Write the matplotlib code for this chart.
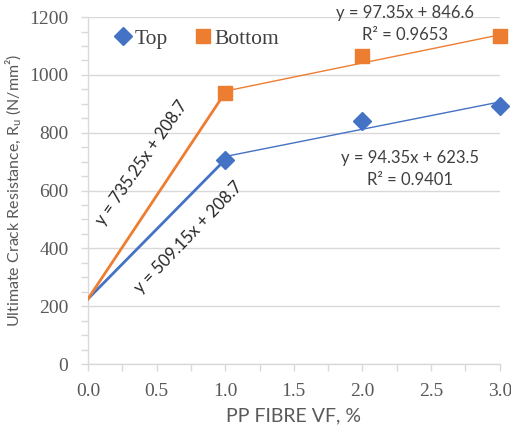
import matplotlib
matplotlib.use("Agg")
import matplotlib.pyplot as plt
from matplotlib.ticker import MultipleLocator
import numpy as np

# Fibre content (%) and ultimate crack resistance (N/mm^2)
fibre_vf = [0.0, 1.0, 2.0, 3.0]
top = [225, 707, 839, 893]
bottom = [225, 939, 1066, 1133]

# Trend-line coefficients (slope, intercept)
top_low_fit = (509.15, 208.7)
bottom_low_fit = (735.25, 208.7)
top_high_fit = (94.35, 623.5)
bottom_high_fit = (97.35, 846.6)
top_r2 = 0.9401
bottom_r2 = 0.9653

x_ticks = [0.0, 0.5, 1.0, 1.5, 2.0, 2.5, 3.0]
y_ticks = [0, 200, 400, 600, 800, 1000, 1200]

BLUE = "#4472C4"
ORANGE = "#ED7D31"
GRID = "#D9D9D9"
TICK = "#595959"
EQ = "#404040"

plt.rcParams["font.family"] = ["Lato", "DejaVu Sans"]

fig = plt.figure(figsize=(5.11, 4.28), dpi=100)
ax = fig.add_axes([0.172, 0.1495, 0.806, 0.8105])

# steep segments from 0 to 1 %
ax.plot(fibre_vf[:2], top[:2], color=BLUE, lw=2.0, zorder=3)
ax.plot(fibre_vf[:2], bottom[:2], color=ORANGE, lw=2.0, zorder=3)

# linear trend lines over 1-3 %
xf = np.array([1.0, 3.0])
ax.plot(xf, top_high_fit[0] * xf + top_high_fit[1], color=BLUE, lw=1.0, zorder=3)
ax.plot(xf, bottom_high_fit[0] * xf + bottom_high_fit[1], color=ORANGE, lw=1.0, zorder=3)

# markers
ax.plot(fibre_vf[1:], top[1:], ls="none", marker="D", ms=9, color=BLUE,
        label="Top", zorder=4, clip_on=False)
ax.plot(fibre_vf[1:], bottom[1:], ls="none", marker="s", ms=10, color=ORANGE,
        label="Bottom", zorder=4, clip_on=False)

ax.set_xlim(0, 3.0)
ax.set_ylim(0, 1200)
ax.set_xticks(x_ticks)
ax.set_xticklabels([f"{v:.1f}" for v in x_ticks])
ax.set_yticks(y_ticks)
ax.xaxis.set_minor_locator(MultipleLocator(0.25))
ax.yaxis.set_minor_locator(MultipleLocator(50))

ax.grid(axis="y", which="major", color=GRID, lw=1.0, zorder=0)
for s in ["top", "right"]:
    ax.spines[s].set_visible(False)
for s in ["left", "bottom"]:
    ax.spines[s].set_color(GRID)
    ax.spines[s].set_linewidth(1.0)

ax.tick_params(axis="both", which="both", color=GRID, labelcolor=TICK,
               direction="out", length=5, width=1)
for lab in ax.get_xticklabels() + ax.get_yticklabels():
    lab.set_fontfamily("Liberation Serif")
    lab.set_fontsize(14)
ax.tick_params(axis="x", pad=9)
ax.tick_params(axis="y", pad=9)

ax.set_xlabel("PP FIBRE VF, %", color=TICK, fontsize=14, labelpad=5)
ax.set_ylabel("Ultimate Crack Resistance, R$_\\mathregular{u}$ (N/mm²)",
              color=TICK, fontsize=11.5, labelpad=4)

leg = ax.legend(loc="upper left", bbox_to_anchor=(0.012, 1.022), ncol=2, frameon=False,
                prop={"family": "Liberation Serif", "size": 15.5},
                handletextpad=0.05, columnspacing=1.1, handlelength=1.0,
                labelcolor="#404040")

# equation labels
ax.text(2.31, 1214,
        f"y = {bottom_high_fit[0]}x + {bottom_high_fit[1]}", ha="center",
        va="center", fontsize=12, color=EQ, clip_on=False)
ax.text(2.31, 1138, f"R² = {bottom_r2}", ha="center", va="center",
        fontsize=12, color=EQ)
ax.text(2.345, 712, f"y = {top_high_fit[0]}x + {top_high_fit[1]}",
        ha="center", va="center", fontsize=12, color=EQ)
ax.text(2.345, 636, f"R² = {top_r2}", ha="center", va="center",
        fontsize=12, color=EQ)
ax.text(0.393, 695, f"y = {bottom_low_fit[0]}x + {bottom_low_fit[1]}",
        ha="center", va="center", fontsize=12, color="#262626", rotation=55)
ax.text(0.736, 439, f"y = {top_low_fit[0]}x + {top_low_fit[1]}",
        ha="center", va="center", fontsize=12, color="#262626", rotation=46)

fig.savefig("out.png", dpi=100)
